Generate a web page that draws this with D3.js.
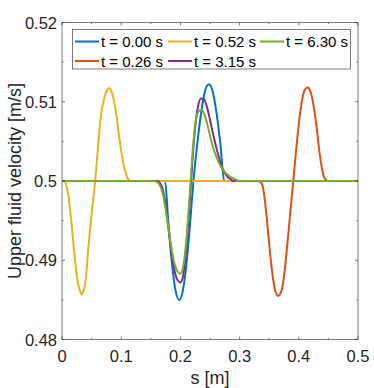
<!DOCTYPE html>
<html>
<head>
<meta charset="utf-8">
<script src="https://cdn.jsdelivr.net/npm/d3@7.9.0/dist/d3.min.js"></script>
<style>
  body { margin: 0; background: #fff; }
  svg { font-family: "Liberation Sans", Arial, sans-serif; }
</style>
</head>
<body>
<svg id="chart" width="374" height="388"></svg>
<script>
// series labels, in plot order
const labels = ['t = 0.00 s', 't = 0.26 s', 't = 0.52 s', 't = 3.15 s', 't = 6.30 s'];
const colors = ['#0072BD', '#D95319', '#EDB120', '#7E2F8E', '#77AC30'];

// [s, velocity] pairs
const blue = [
  [0, 0.5], [0.170, 0.5], [0.174, 0.5], [0.180, 0.4943], [0.186, 0.4894], [0.192, 0.4861],
  [0.198, 0.4850], [0.204, 0.4861], [0.210, 0.4894], [0.216, 0.4943], [0.222, 0.5],
  [0.2285, 0.5047], [0.235, 0.5086], [0.2415, 0.5113], [0.248, 0.5122], [0.2545, 0.5113],
  [0.261, 0.5086], [0.2675, 0.5047], [0.274, 0.5], [0.28, 0.5], [0.5, 0.5]
];
const orange = [
  [0, 0.5], [0.330, 0.5], [0.335, 0.4999], [0.340, 0.4990], [0.345, 0.4960], [0.350, 0.4920],
  [0.355, 0.4885], [0.360, 0.4862], [0.365, 0.4855], [0.370, 0.4860], [0.375, 0.4880],
  [0.380, 0.4915], [0.385, 0.4955], [0.390, 0.4995], [0.395, 0.5035], [0.400, 0.5072],
  [0.405, 0.5100], [0.410, 0.5115], [0.415, 0.5118], [0.420, 0.5112], [0.425, 0.5095],
  [0.430, 0.5068], [0.435, 0.5036], [0.440, 0.5012], [0.445, 0.5002], [0.450, 0.5], [0.5, 0.5]
];
const yellow = [
  [0, 0.5], [0.005, 0.4999], [0.010, 0.4985], [0.015, 0.4955], [0.020, 0.4915], [0.025, 0.4880],
  [0.030, 0.4862], [0.033, 0.4857], [0.035, 0.4859], [0.040, 0.4875], [0.045, 0.4920],
  [0.050, 0.4958], [0.055, 0.4992], [0.060, 0.5035], [0.065, 0.5078], [0.070, 0.5100],
  [0.075, 0.5113], [0.080, 0.5117], [0.085, 0.5110], [0.090, 0.5092], [0.095, 0.5065],
  [0.100, 0.5038], [0.105, 0.5018], [0.110, 0.5005], [0.115, 0.5], [0.5, 0.5]
];
const purple = [
  [0, 0.5], [0.160, 0.5], [0.165, 0.4998], [0.170, 0.4990], [0.175, 0.4970], [0.180, 0.4940],
  [0.185, 0.4910], [0.190, 0.4887], [0.195, 0.4875], [0.200, 0.4872], [0.205, 0.4882],
  [0.210, 0.4915], [0.215, 0.4965], [0.220, 0.5022], [0.225, 0.5068], [0.230, 0.5095],
  [0.235, 0.5104], [0.240, 0.5103], [0.245, 0.5093], [0.250, 0.5077], [0.255, 0.5060],
  [0.260, 0.5044], [0.265, 0.5030], [0.270, 0.5018], [0.275, 0.5010], [0.280, 0.5005],
  [0.285, 0.5002], [0.290, 0.5], [0.5, 0.5]
];
const green = [
  [0, 0.5], [0.155, 0.5], [0.160, 0.4999], [0.165, 0.4995], [0.170, 0.4985], [0.175, 0.4965],
  [0.180, 0.4940], [0.185, 0.4915], [0.190, 0.4896], [0.195, 0.4886], [0.200, 0.4883],
  [0.205, 0.4893], [0.210, 0.4925], [0.215, 0.4975], [0.220, 0.5030], [0.225, 0.5072],
  [0.230, 0.5087], [0.235, 0.5090], [0.240, 0.5085], [0.245, 0.5073], [0.250, 0.5057],
  [0.255, 0.5043], [0.260, 0.5032], [0.265, 0.5023], [0.270, 0.5016], [0.275, 0.5011],
  [0.280, 0.5008], [0.285, 0.5005], [0.290, 0.5003], [0.295, 0.5001], [0.300, 0.5], [0.5, 0.5]
];
const series = [blue, orange, yellow, purple, green];

const xTicks = [0, 0.1, 0.2, 0.3, 0.4, 0.5];
const yTicks = [0.48, 0.49, 0.5, 0.51, 0.52];
const xMinor = [0.05, 0.15, 0.25, 0.35, 0.45];
const yMinor = [0.485, 0.495, 0.505, 0.515];

// legend entries row by row (legend fills column-wise, 3 columns)
const legendOrder = [0, 2, 4, 1, 3];

const mLeft = 62, mRight = 358, mTop = 22.5, mBottom = 339.5;
const svg = d3.select('#chart');

let x = d3.scaleLinear().domain([0, 0.5]).range([mLeft, mRight]);
let y = d3.scaleLinear().domain([0.48, 0.52]).range([mBottom, mTop]);

const axisColor = '#262626';

let line = d3.line()
  .x(d => x(d[0]))
  .y(d => y(d[1]))
  .curve(d3.curveMonotoneX);

let plot = svg.append('g');
series.forEach((pts, i) => {
  plot.append('path')
    .attr('d', line(pts))
    .attr('fill', 'none')
    .attr('stroke', colors[i])
    .attr('stroke-width', 2)
    .attr('stroke-linejoin', 'round');
});

// axes box with inward ticks
let axes = svg.append('g').attr('stroke', axisColor).attr('stroke-width', 0.6);
axes.append('rect')
  .attr('x', mLeft).attr('y', mTop)
  .attr('width', mRight - mLeft).attr('height', mBottom - mTop)
  .attr('fill', 'none');

xTicks.forEach(t => {
  axes.append('line').attr('x1', x(t)).attr('x2', x(t)).attr('y1', mBottom).attr('y2', mBottom - 3);
  axes.append('line').attr('x1', x(t)).attr('x2', x(t)).attr('y1', mTop).attr('y2', mTop + 3);
});
xMinor.forEach(t => {
  axes.append('line').attr('x1', x(t)).attr('x2', x(t)).attr('y1', mBottom).attr('y2', mBottom - 1.5);
  axes.append('line').attr('x1', x(t)).attr('x2', x(t)).attr('y1', mTop).attr('y2', mTop + 1.5);
});
yTicks.forEach(t => {
  axes.append('line').attr('x1', mLeft).attr('x2', mLeft + 3).attr('y1', y(t)).attr('y2', y(t));
  axes.append('line').attr('x1', mRight).attr('x2', mRight - 3).attr('y1', y(t)).attr('y2', y(t));
});
yMinor.forEach(t => {
  axes.append('line').attr('x1', mLeft).attr('x2', mLeft + 1.5).attr('y1', y(t)).attr('y2', y(t));
  axes.append('line').attr('x1', mRight).attr('x2', mRight - 1.5).attr('y1', y(t)).attr('y2', y(t));
});

// tick labels
svg.append('g').selectAll('text')
  .data(xTicks)
  .join('text')
  .attr('x', d => x(d))
  .attr('y', 362)
  .attr('text-anchor', 'middle')
  .attr('font-size', 16.5)
  .attr('fill', axisColor)
  .text(d => d3.format('')(d));

svg.append('g').selectAll('text')
  .data(yTicks)
  .join('text')
  .attr('x', 57)
  .attr('y', d => y(d) + 6)
  .attr('text-anchor', 'end')
  .attr('font-size', 16.5)
  .attr('fill', axisColor)
  .text(d => d3.format('')(d));

// axis titles
svg.append('text')
  .attr('x', (mLeft + mRight) / 2)
  .attr('y', 384)
  .attr('text-anchor', 'middle')
  .attr('font-size', 18)
  .attr('fill', axisColor)
  .text('s [m]');

svg.append('text')
  .attr('transform', `translate(21, ${(mTop + mBottom) / 2}) rotate(-90)`)
  .attr('text-anchor', 'middle')
  .attr('font-size', 18)
  .attr('fill', axisColor)
  .text('Upper fluid velocity [m/s]');

// legend
let legend = svg.append('g');
legend.append('rect')
  .attr('x', 72.5).attr('y', 29.5)
  .attr('width', 278).attr('height', 39.5)
  .attr('fill', '#fff')
  .attr('stroke', axisColor)
  .attr('stroke-width', 0.6);

const colX = [75, 168, 260];
const rowY = [41.5, 61];
legendOrder.forEach((sIdx, k) => {
  let col = k % 3;
  let row = Math.floor(k / 3);
  legend.append('line')
    .attr('x1', colX[col]).attr('x2', colX[col] + 24)
    .attr('y1', rowY[row]).attr('y2', rowY[row])
    .attr('stroke', colors[sIdx])
    .attr('stroke-width', 2);
  legend.append('text')
    .attr('x', colX[col] + 26)
    .attr('y', rowY[row] + 5.5)
    .attr('font-size', 15)
    .attr('fill', '#000')
    .text(labels[sIdx]);
});
</script>
</body>
</html>
